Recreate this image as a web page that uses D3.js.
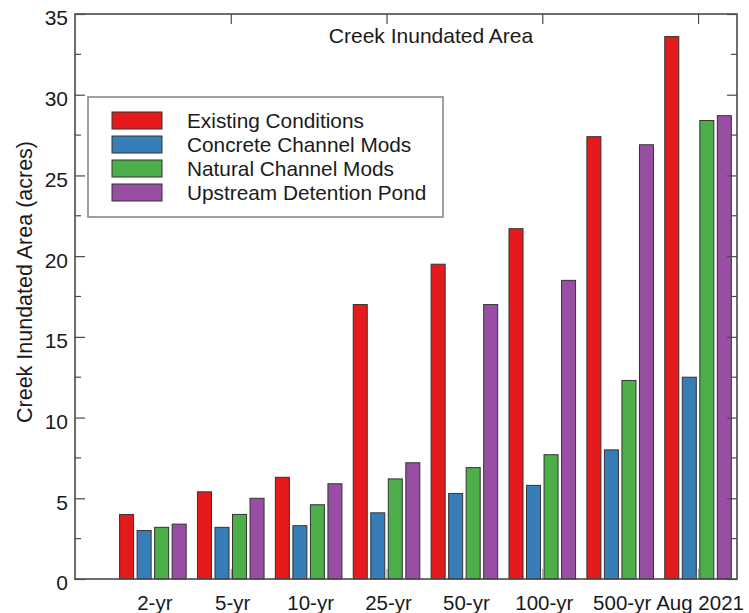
<!DOCTYPE html>
<html>
<head>
<meta charset="utf-8">
<script src="https://cdn.jsdelivr.net/npm/d3@7"></script>
<style>
  html, body { margin: 0; padding: 0; background: #fff; }
  svg { display: block; font-family: "Liberation Sans", Arial, sans-serif; }
</style>
</head>
<body>
<svg id="chart" width="749" height="613"></svg>
<script>
// Storm events on the x axis
const categories = ["2-yr", "5-yr", "10-yr", "25-yr", "50-yr", "100-yr", "500-yr", "Aug 2021"];

// Scenario names and colours
const seriesNames = ["Existing Conditions", "Concrete Channel Mods", "Natural Channel Mods", "Upstream Detention Pond"];
const seriesColors = ["#e41a1c", "#377eb8", "#4daf4a", "#984ea3"];

// Inundated area (acres) per scenario, one value per storm event
const existing   = [4.0, 5.4, 6.3, 17.0, 19.5, 21.7, 27.4, 33.6];
const concrete   = [3.0, 3.2, 3.3, 4.1, 5.3, 5.8, 8.0, 12.5];
const natural    = [3.2, 4.0, 4.6, 6.2, 6.9, 7.7, 12.3, 28.4];
const detention  = [3.4, 5.0, 5.9, 7.2, 17.0, 18.5, 26.9, 28.7];
const seriesValues = [existing, concrete, natural, detention];

// Axis ticks
const yMajorTicks = [0, 5, 10, 15, 20, 25, 30, 35];
const yMinorTicks = [2.5, 7.5, 12.5, 17.5, 22.5, 27.5, 32.5];
const xFrameTicks = [2, 4, 6, 8];

const title = "Creek Inundated Area";
const yTitle = "Creek Inundated Area (acres)";

const svg = d3.select("#chart");
const plotLeft = 75, plotRight = 737, plotTop = 14, plotBottom = 579;
const axisColor = "#4a4a4a";

// Groups sit at 1..8 on a linear axis
const x = d3.scaleLinear().domain([0, 8.5]).range([plotLeft, plotRight]);
const y = d3.scaleLinear().domain([0, 35]).range([plotBottom, plotTop]);

const barW = 0.18;      // bar width in axis units
const barStep = 0.225;  // spacing between bars of one group

// Bars
const bars = svg.append("g");
seriesValues.forEach((vals, j) => {
  bars.selectAll(null)
    .data(vals)
    .enter().append("rect")
    .attr("x", (d, i) => x(i + 1 + (j - 1.5) * barStep - barW / 2))
    .attr("width", x(barW) - x(0))
    .attr("y", d => y(d))
    .attr("height", d => y(0) - y(d))
    .attr("fill", seriesColors[j])
    .attr("stroke", "#333")
    .attr("stroke-width", 1);
});

// Left axis: labelled major ticks pointing inward
const yAxis = svg.append("g")
  .attr("transform", `translate(${plotLeft},0)`)
  .call(d3.axisLeft(y).tickValues(yMajorTicks).tickSize(-10).tickPadding(7));
yAxis.select(".domain").remove();
yAxis.selectAll(".tick line").attr("stroke", axisColor).attr("stroke-width", 1.2);
yAxis.selectAll(".tick text")
  .attr("font-size", 21).attr("fill", "#1a1a1a")
  .attr("font-family", "Liberation Sans, Arial, sans-serif")
  .attr("dy", "0.52em");

// Left minor ticks
svg.append("g").selectAll("line").data(yMinorTicks).enter().append("line")
  .attr("x1", plotLeft).attr("x2", plotLeft + 6)
  .attr("y1", d => y(d)).attr("y2", d => y(d))
  .attr("stroke", axisColor).attr("stroke-width", 1.2);

// Right axis ticks (major and minor), pointing inward
const yRight = svg.append("g")
  .attr("transform", `translate(${plotRight},0)`)
  .call(d3.axisRight(y).tickValues(yMajorTicks).tickSize(-10).tickFormat(""));
yRight.select(".domain").remove();
yRight.selectAll(".tick line").attr("stroke", axisColor).attr("stroke-width", 1.2);
svg.append("g").selectAll("line").data(yMinorTicks).enter().append("line")
  .attr("x1", plotRight).attr("x2", plotRight - 6)
  .attr("y1", d => y(d)).attr("y2", d => y(d))
  .attr("stroke", axisColor).attr("stroke-width", 1.2);

// Top and bottom frame ticks
const xTop = svg.append("g")
  .attr("transform", `translate(0,${plotTop})`)
  .call(d3.axisTop(x).tickValues(xFrameTicks).tickSize(-10).tickFormat(""));
xTop.select(".domain").remove();
xTop.selectAll(".tick line").attr("stroke", axisColor).attr("stroke-width", 1.2);

const xBottom = svg.append("g")
  .attr("transform", `translate(0,${plotBottom})`)
  .call(d3.axisBottom(x).tickValues(xFrameTicks).tickSize(-10).tickFormat(""));
xBottom.select(".domain").remove();
xBottom.selectAll(".tick line").attr("stroke", "#999").attr("stroke-width", 1.2);

// Plot frame
svg.append("rect")
  .attr("x", plotLeft).attr("y", plotTop)
  .attr("width", plotRight - plotLeft).attr("height", plotBottom - plotTop)
  .attr("fill", "none").attr("stroke", axisColor).attr("stroke-width", 1.6);

// Category labels under each group
svg.append("g").selectAll("text").data(categories).enter().append("text")
  .attr("x", (d, i) => x(i + 1) + 2)
  .attr("y", 610)
  .attr("text-anchor", "middle")
  .attr("font-size", 20.5)
  .attr("fill", "#1a1a1a")
  .text(d => d);

// Title inside the plot
svg.append("text")
  .attr("x", 431).attr("y", 43)
  .attr("text-anchor", "middle")
  .attr("font-size", 21)
  .attr("fill", "#1a1a1a")
  .text(title);

// Y axis title
svg.append("text")
  .attr("transform", "translate(32,282) rotate(-90)")
  .attr("text-anchor", "middle")
  .attr("font-size", 21.5)
  .attr("fill", "#1a1a1a")
  .text(yTitle);

// Legend
const legend = svg.append("g");
legend.append("rect")
  .attr("x", 88).attr("y", 97).attr("width", 355).attr("height", 120)
  .attr("fill", "#fff").attr("stroke", "#808080").attr("stroke-width", 1.5);
const rows = legend.selectAll("g.row").data(seriesNames).enter().append("g")
  .attr("class", "row")
  .attr("transform", (d, i) => `translate(0,${112 + i * 24})`);
rows.append("rect")
  .attr("x", 112).attr("y", 0).attr("width", 50).attr("height", 17)
  .attr("fill", (d, i) => seriesColors[i])
  .attr("stroke", "#333").attr("stroke-width", 1);
rows.append("text")
  .attr("x", 187).attr("y", 16)
  .attr("font-size", 20.8)
  .attr("fill", "#1a1a1a")
  .text(d => d);
</script>
</body>
</html>
